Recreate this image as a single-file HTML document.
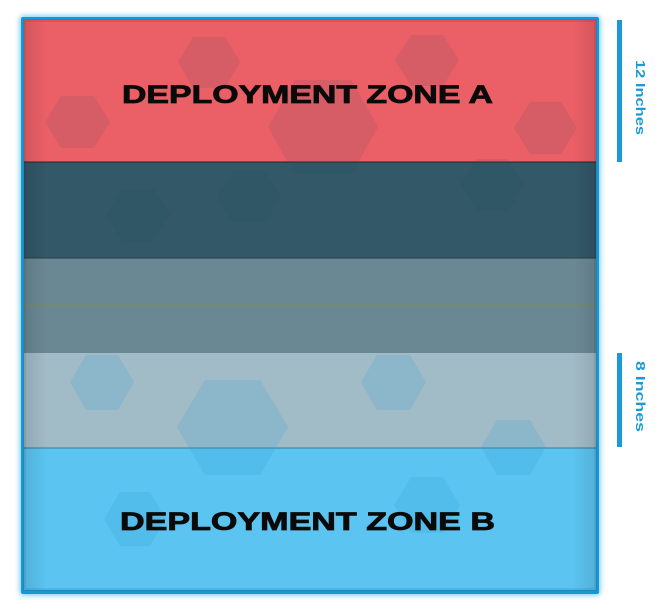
<!DOCTYPE html>
<html><head><meta charset="utf-8"><style>
html,body{margin:0;padding:0;background:#fff;width:670px;height:616px;overflow:hidden}
</style></head><body>
<svg width="670" height="616" viewBox="0 0 670 616" xmlns="http://www.w3.org/2000/svg">
<defs>
<filter id="glow" x="-10%" y="-10%" width="120%" height="120%"><feGaussianBlur stdDeviation="3"/></filter>
<linearGradient id="vl" x1="0" x2="1" y1="0" y2="0">
<stop offset="0" stop-color="#000" stop-opacity="0.10"/><stop offset="0.04" stop-color="#000" stop-opacity="0"/>
<stop offset="0.96" stop-color="#000" stop-opacity="0"/><stop offset="1" stop-color="#000" stop-opacity="0.10"/></linearGradient>
</defs>
<rect x="20" y="16" width="580" height="579" rx="3" fill="#6cc6f2" filter="url(#glow)"/>
<rect x="21" y="17" width="578" height="577" rx="2" fill="#1797d5"/>
<rect x="24" y="20" width="572" height="142" fill="#eb5f67"/>
<rect x="24" y="162" width="572" height="96" fill="#335867"/>
<rect x="24" y="258" width="572" height="95" fill="#6a8894"/>
<rect x="24" y="353" width="572" height="95" fill="#a1bbc7"/>
<rect x="24" y="448" width="572" height="142" fill="#5bc4f1"/>
<line x1="24" y1="162" x2="596" y2="162" stroke="#1d2a30" stroke-width="1"/>
<line x1="24" y1="258" x2="596" y2="258" stroke="#22404c" stroke-width="1"/>
<line x1="24" y1="305" x2="596" y2="305" stroke="#7c8c5c" stroke-width="1"/>
<line x1="24" y1="448" x2="596" y2="448" stroke="#3f7890" stroke-width="1"/>
<g fill="#1f4a5c" fill-opacity="0.1">
<polygon points="178,62 193,37 225,37 240,62 225,88 193,88"/>
<polygon points="395,60 411,35 443,35 459,60 443,86 411,86"/>
<polygon points="45,122 61,96 94,96 110,122 94,148 61,148"/>
<polygon points="268,127 295,80 351,80 378,127 351,175 295,175"/>
<polygon points="514,128 530,102 561,102 577,128 561,154 530,154"/>
<polygon points="106,215 122,189 154,189 170,215 154,241 122,241"/>
<polygon points="217,197 233,171 265,171 281,197 265,223 233,223"/>
<polygon points="461,185 477,159 508,159 524,185 508,211 477,211"/>
</g>
<g fill="#2a9fd0" fill-opacity="0.18">
<polygon points="70,382 86,355 118,355 134,382 118,410 86,410"/>
<polygon points="177,427 205,380 260,380 288,427 260,475 205,475"/>
<polygon points="361,382 377,355 410,355 426,382 410,410 377,410"/>
<polygon points="481,447 497,420 530,420 546,447 530,475 497,475"/>
<polygon points="104,519 120,492 150,492 166,519 150,546 120,546"/>
<polygon points="394,505 411,477 443,477 460,505 443,533 411,533"/>
</g>
<rect x="24" y="20" width="572" height="570" fill="url(#vl)"/>
<rect x="24.5" y="20.5" width="571" height="569" fill="none" stroke="#000" stroke-opacity="0.08" stroke-width="3"/>
<g font-family="Liberation Sans, sans-serif" font-weight="bold" fill="#0a0a0a" font-size="25" stroke="#0a0a0a" stroke-width="0.8">
<text x="122" y="103" textLength="371" lengthAdjust="spacingAndGlyphs">DEPLOYMENT ZONE A</text>
<text x="120" y="530" textLength="375" lengthAdjust="spacingAndGlyphs">DEPLOYMENT ZONE  B</text>
</g>
<rect x="617" y="20" width="5" height="142" fill="#1a9ad6"/>
<rect x="617" y="353" width="5" height="94" fill="#1a9ad6"/>
<g font-family="Liberation Sans, sans-serif" font-weight="bold" fill="#1a9ad6" font-size="13">
<text transform="translate(636,60) rotate(90)" textLength="75" lengthAdjust="spacingAndGlyphs">12 Inches</text>
<text transform="translate(636,361) rotate(90)" textLength="71" lengthAdjust="spacingAndGlyphs">8 Inches</text>
</g>
</svg>
</body></html>
